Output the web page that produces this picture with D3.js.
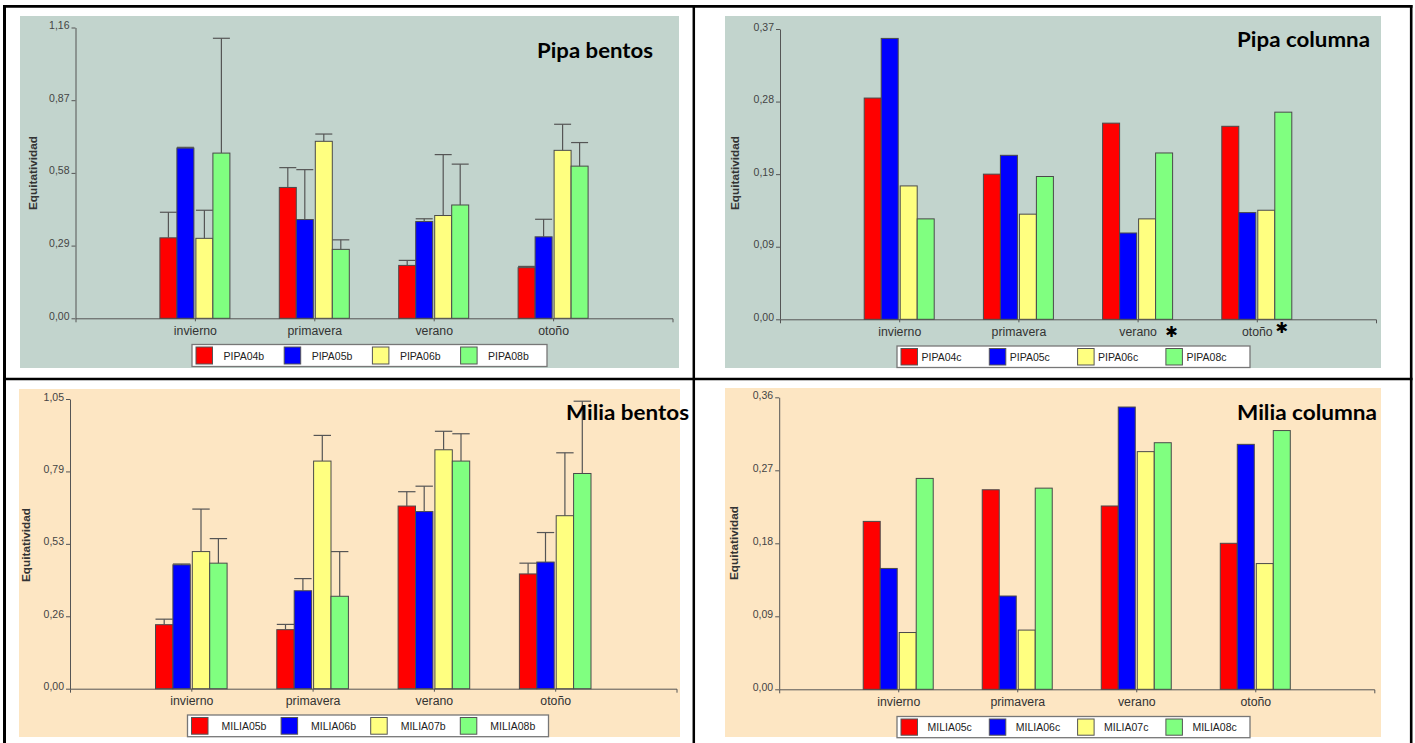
<!DOCTYPE html>
<html>
<head>
<meta charset="utf-8">
<script src="https://cdn.jsdelivr.net/npm/d3@7"></script>
<style>
  body { margin: 0; background: #ffffff; }
  svg { display: block; }
</style>
</head>
<body>
<svg id="fig" width="1415" height="743"></svg>
<script>
// ---- data ----
const seasons = ["invierno", "primavera", "verano", "otoño"];

// Pipa, benthos: mean evenness per station (rows) and season (columns), plus upper SD
const pipaBentosSeries = ["PIPA04b", "PIPA05b", "PIPA06b", "PIPA08b"];
const pipaBentosMeans = [
  [0.321, 0.522, 0.211, 0.202],
  [0.679, 0.394, 0.386, 0.325],
  [0.319, 0.706, 0.410, 0.670],
  [0.659, 0.275, 0.452, 0.607]
];
const pipaBentosSD = [
  [0.102, 0.079, 0.020, 0.005],
  [0.003, 0.199, 0.011, 0.070],
  [0.112, 0.029, 0.243, 0.104],
  [0.458, 0.038, 0.163, 0.094]
];
const pipaBentosTicks = [0, 0.29, 0.58, 0.87, 1.16];
const pipaBentosTickLabels = ["0,00", "0,29", "0,58", "0,87", "1,16"];

// Pipa, water column
const pipaColumnaSeries = ["PIPA04c", "PIPA05c", "PIPA06c", "PIPA08c"];
const pipaColumnaMeans = [
  [0.282, 0.185, 0.250, 0.246],
  [0.358, 0.209, 0.110, 0.136],
  [0.170, 0.134, 0.128, 0.139],
  [0.128, 0.182, 0.212, 0.264]
];
const pipaColumnaTicks = [0, 0.0925, 0.185, 0.2775, 0.37];
const pipaColumnaTickLabels = ["0,00", "0,09", "0,19", "0,28", "0,37"];
const pipaColumnaMarked = ["verano", "otoño"];

// Milia, benthos
const miliaBentosSeries = ["MILIA05b", "MILIA06b", "MILIA07b", "MILIA08b"];
const miliaBentosMeans = [
  [0.232, 0.214, 0.662, 0.416],
  [0.449, 0.355, 0.642, 0.459],
  [0.497, 0.825, 0.866, 0.627],
  [0.455, 0.335, 0.825, 0.780]
];
const miliaBentosSD = [
  [0.020, 0.019, 0.052, 0.039],
  [0.003, 0.044, 0.092, 0.107],
  [0.154, 0.093, 0.067, 0.228],
  [0.089, 0.162, 0.099, 0.262]
];
const miliaBentosTicks = [0, 0.2625, 0.525, 0.7875, 1.05];
const miliaBentosTickLabels = ["0,00", "0,26", "0,53", "0,79", "1,05"];

// Milia, water column
const miliaColumnaSeries = ["MILIA05c", "MILIA06c", "MILIA07c", "MILIA08c"];
const miliaColumnaMeans = [
  [0.207, 0.246, 0.226, 0.180],
  [0.149, 0.115, 0.348, 0.302],
  [0.070, 0.073, 0.293, 0.155],
  [0.260, 0.248, 0.304, 0.319]
];
const miliaColumnaTicks = [0, 0.09, 0.18, 0.27, 0.36];
const miliaColumnaTickLabels = ["0,00", "0,09", "0,18", "0,27", "0,36"];

const seriesColors = ["#ff0000", "#0000ff", "#ffff80", "#80ff80"];
const yLabel = "Equitatividad";

// ---- layout ----
const svg = d3.select("#fig");
const GREY = "#c2d4cd", PEACH = "#fde6c3";
const SANS = "'Liberation Sans', Arial, sans-serif";

const panels = [
  { title: "Pipa bentos", titleX: 653, titleY: 58, titleW: 116,
    series: pipaBentosSeries, means: pipaBentosMeans, sd: pipaBentosSD,
    ticks: pipaBentosTicks, tickLabels: pipaBentosTickLabels,
    bg: [20, 16, 679, 368], bgColor: GREY,
    x0: 75.5, x1: 672.5, y0: 318.3, yTop: 27.5, barW: 17,
    labelX: 33, labelY: 173,
    legend: { x: 192, y: 344.5, w: 355, h: 22, step: 88.2, textOff: 27.5 } },
  { title: "Pipa columna", titleX: 1370, titleY: 47, titleW: 133,
    series: pipaColumnaSeries, means: pipaColumnaMeans, sd: null,
    ticks: pipaColumnaTicks, tickLabels: pipaColumnaTickLabels,
    marked: pipaColumnaMarked,
    bg: [725, 16, 1381, 368], bgColor: GREY,
    x0: 780, x1: 1376, y0: 319.3, yTop: 29, barW: 17,
    labelX: 735, labelY: 173,
    legend: { x: 897, y: 346, w: 353, h: 21.5, step: 88.3, textOff: 20.5 } },
  { title: "Milia bentos", titleX: 689, titleY: 420, titleW: 123,
    series: miliaBentosSeries, means: miliaBentosMeans, sd: miliaBentosSD,
    ticks: miliaBentosTicks, tickLabels: miliaBentosTickLabels,
    bg: [19, 389, 680, 737], bgColor: PEACH,
    x0: 70, x1: 676.5, y0: 688.7, yTop: 399, barW: 17.4,
    labelX: 26, labelY: 545,
    legend: { x: 187.5, y: 715, w: 361, h: 21.7, step: 89.6, textOff: 30 } },
  { title: "Milia columna", titleX: 1377, titleY: 420, titleW: 140,
    series: miliaColumnaSeries, means: miliaColumnaMeans, sd: null,
    ticks: miliaColumnaTicks, tickLabels: miliaColumnaTickLabels,
    bg: [725, 388, 1381, 737], bgColor: PEACH,
    x0: 779.2, x1: 1374.3, y0: 689.3, yTop: 397.3, barW: 17,
    labelX: 734, labelY: 543,
    legend: { x: 897, y: 716.5, w: 353, h: 21.2, step: 88.3, textOff: 26.5 } }
];

// ---- table frame ----
const frame = svg.append("g").attr("stroke", "#000").attr("fill", "none");
frame.append("line").attr("x1", 4.5).attr("x2", 4.5).attr("y1", 5).attr("y2", 743).attr("stroke-width", 3);
frame.append("line").attr("x1", 1411.2).attr("x2", 1411.2).attr("y1", 5).attr("y2", 743).attr("stroke-width", 2.6);
frame.append("line").attr("x1", 3).attr("x2", 1412.5).attr("y1", 6.3).attr("y2", 6.3).attr("stroke-width", 2.7);
frame.append("line").attr("x1", 693.8).attr("x2", 693.8).attr("y1", 5).attr("y2", 743).attr("stroke-width", 2.5);
frame.append("line").attr("x1", 3).attr("x2", 1412.5).attr("y1", 378.9).attr("y2", 378.9).attr("stroke-width", 2.5);

function drawPanel(p) {
  const g = svg.append("g");
  g.append("rect")
    .attr("x", p.bg[0]).attr("y", p.bg[1])
    .attr("width", p.bg[2] - p.bg[0]).attr("height", p.bg[3] - p.bg[1])
    .attr("fill", p.bgColor);

  const x = d3.scalePoint().domain(seasons).range([p.x0, p.x1]).padding(1);
  const y = d3.scaleLinear().domain([0, p.ticks[p.ticks.length - 1]]).range([p.y0, p.yTop]);
  const w = p.barW;
  const offs = [-2 * w - 1, -w - 1, 1, w + 1];

  // y axis
  const ya = g.append("g").attr("transform", `translate(${p.x0},0)`)
    .call(d3.axisLeft(y).tickValues(p.ticks)
      .tickFormat((d, i) => p.tickLabels[i])
      .tickSize(4).tickSizeOuter(0).tickPadding(2));
  ya.select(".domain").attr("stroke", "#555");
  ya.selectAll(".tick line").attr("stroke", "#555");
  ya.selectAll(".tick text")
    .attr("fill", "#444").attr("font-family", SANS)
    .attr("font-size", 10.5).attr("dy", "0.1em");

  // x axis
  const xa = g.append("g").attr("transform", `translate(0,${p.y0})`)
    .call(d3.axisBottom(x).tickSize(3).tickSizeOuter(4).tickPadding(5));
  xa.select(".domain").attr("stroke", "#555");
  xa.selectAll(".tick line").attr("stroke", "#555");
  xa.selectAll(".tick text")
    .attr("fill", "#333").attr("font-family", SANS)
    .attr("font-size", 12.3);

  // bars
  p.means.forEach((vals, si) => {
    vals.forEach((v, ci) => {
      const bx = x(seasons[ci]) + offs[si];
      g.append("rect")
        .attr("x", bx).attr("y", y(v))
        .attr("width", w).attr("height", y(0) - y(v))
        .attr("fill", seriesColors[si])
        .attr("stroke", "#4a4a4a").attr("stroke-width", 1);
    });
  });

  // upper error bars
  if (p.sd) {
    p.means.forEach((vals, si) => {
      vals.forEach((v, ci) => {
        const cx = x(seasons[ci]) + offs[si] + w / 2;
        const top = y(v + p.sd[si][ci]);
        g.append("line").attr("x1", cx).attr("x2", cx).attr("y1", y(v)).attr("y2", top)
          .attr("stroke", "#555").attr("stroke-width", 1.2);
        g.append("line").attr("x1", cx - w / 2).attr("x2", cx + w / 2).attr("y1", top).attr("y2", top)
          .attr("stroke", "#555").attr("stroke-width", 1.2);
      });
    });
  }

  // significance marks next to season labels
  if (p.marked) {
    p.marked.forEach((s, i) => {
      g.append("text")
        .attr("x", x(s) + (i === 0 ? 34 : 25))
        .attr("y", p.y0 + (i === 0 ? 13 : 9))
        .attr("text-anchor", "middle").attr("dominant-baseline", "central")
        .attr("font-family", "'DejaVu Sans', sans-serif").attr("font-size", 15)
        .attr("fill", "#000").text("\u2731");
    });
  }

  // y label
  g.append("text")
    .attr("transform", `translate(${p.labelX},${p.labelY}) rotate(-90)`)
    .attr("text-anchor", "middle").attr("dominant-baseline", "central")
    .attr("font-family", SANS)
    .attr("font-weight", "bold").attr("font-size", 11.8).attr("fill", "#333")
    .text(yLabel);

  // legend
  const L = p.legend;
  const lg = g.append("g");
  lg.append("rect").attr("x", L.x).attr("y", L.y).attr("width", L.w).attr("height", L.h)
    .attr("fill", "#fff").attr("stroke", "#777").attr("stroke-width", 1.3);
  p.series.forEach((s, i) => {
    const sx = L.x + 4 + i * L.step;
    lg.append("rect").attr("x", sx).attr("y", L.y + 2.5)
      .attr("width", 16.5).attr("height", L.h - 5)
      .attr("fill", seriesColors[i]).attr("stroke", "#555").attr("stroke-width", 1);
    lg.append("text").attr("x", sx + L.textOff).attr("y", L.y + L.h / 2)
      .attr("dominant-baseline", "central")
      .attr("font-family", SANS)
      .attr("font-size", 10.5).attr("fill", "#222").text(s);
  });

  // panel title
  svg.append("text")
    .attr("x", p.titleX).attr("y", p.titleY).attr("text-anchor", "end")
    .attr("font-family", "Lato, 'Open Sans', sans-serif").attr("font-weight", "bold")
    .attr("font-size", 21).attr("fill", "#000")
    .attr("textLength", p.titleW).attr("lengthAdjust", "spacingAndGlyphs")
    .text(p.title);
}

panels.forEach(drawPanel);
</script>
</body>
</html>
